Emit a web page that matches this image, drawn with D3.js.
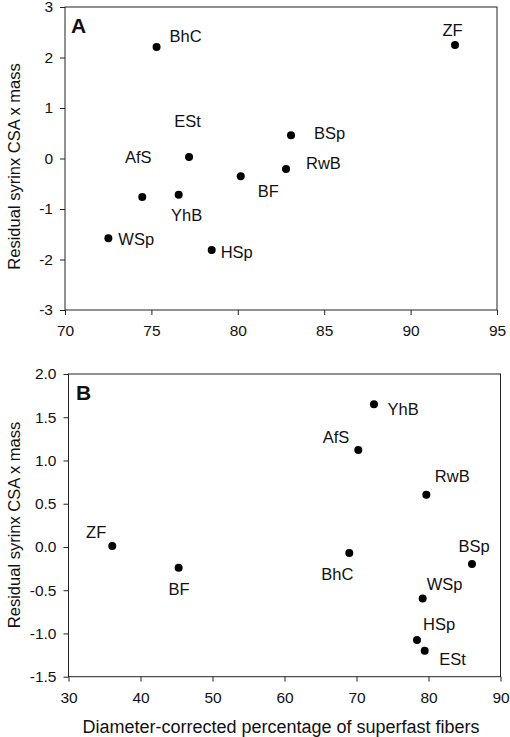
<!DOCTYPE html>
<html><head><meta charset="utf-8">
<script src="https://cdn.jsdelivr.net/npm/d3@7"></script>
<style>body{margin:0;background:#fff}svg{display:block}</style>
</head><body>
<svg id="c" width="510" height="737"></svg>
<script>
// Panel A data
const speciesA = ["BhC","ZF","ESt","AfS","YhB","WSp","HSp","BF","BSp","RwB"];
const superfastA = [75.3, 92.57, 77.18, 74.47, 76.58, 72.51, 78.49, 80.17, 83.08, 82.79];
const residualA = [2.21, 2.25, 0.03, -0.76, -0.72, -1.58, -1.81, -0.35, 0.46, -0.21];
const xTicksA = [70, 75, 80, 85, 90, 95];
const yTicksA = [-3, -2, -1, 0, 1, 2, 3];

// Panel B data
const speciesB = ["ZF","BF","YhB","AfS","RwB","BhC","BSp","WSp","HSp","ESt"];
const superfastB = [36.08, 45.3, 72.43, 70.25, 79.7, 69.0, 86.04, 79.19, 78.4, 79.47];
const residualB = [0.01, -0.24, 1.65, 1.12, 0.605, -0.07, -0.197, -0.597, -1.075, -1.2];
const xTicksB = [30, 40, 50, 60, 70, 80, 90];
const yTicksB = [-1.5, -1.0, -0.5, 0.0, 0.5, 1.0, 1.5, 2.0];

const yTitle = "Residual syrinx CSA x mass";
const xTitleB = "Diameter-corrected percentage of superfast fibers";

// label placement (pixel offsets from point): [dx, dy(baseline), anchor]
const labelPosA = {
  BhC:[13,-5,"start"], ZF:[-2.5,-9,"middle"], ESt:[-1.5,-30,"middle"], AfS:[-4,-34,"middle"],
  YhB:[8,26,"middle"], WSp:[10,7,"start"], HSp:[9,8,"start"], BF:[17,21,"start"],
  BSp:[23,4,"start"], RwB:[20,0,"start"]
};
const labelPosB = {
  ZF:[-6,-8,"end"], BF:[0.5,27,"middle"], YhB:[13.5,11,"start"], AfS:[-9,-7,"end"],
  RwB:[8.5,-13,"start"], BhC:[-12,27,"middle"], BSp:[2,-12.5,"middle"], WSp:[4,-9,"start"],
  HSp:[6,-9.5,"start"], ESt:[14.5,14,"start"]
};

const FONT = "'Liberation Sans', Arial, sans-serif";
const svg = d3.select("#c");

function panel(cfg){
  const g = svg.append("g");
  const x = d3.scaleLinear().domain(cfg.xDomain).range([cfg.left, cfg.right]);
  const y = d3.scaleLinear().domain(cfg.yDomain).range([cfg.bottom, cfg.top]);
  g.append("rect").attr("x", cfg.left).attr("y", cfg.top)
    .attr("width", cfg.right-cfg.left).attr("height", cfg.bottom-cfg.top)
    .attr("fill","none").attr("stroke","#222").attr("stroke-width",1);
  const xa = g.append("g").attr("transform",`translate(0,${cfg.bottom})`)
    .call(d3.axisBottom(x).tickValues(cfg.xTicks).tickSize(5).tickPadding(10).tickFormat(d=>String(d)));
  const ya = g.append("g").attr("transform",`translate(${cfg.left},0)`)
    .call(d3.axisLeft(y).tickValues(cfg.yTicks).tickSize(5).tickPadding(7).tickFormat(cfg.yFmt));
  [xa,ya].forEach(a=>{
    a.select(".domain").remove();
    a.selectAll("line").attr("stroke","#222");
    a.selectAll("text").attr("font-family",FONT).attr("font-size",15.5).attr("fill","#111");
  });
  g.append("text").attr("transform",`translate(${cfg.yTitleX},${cfg.yTitleY}) rotate(-90)`)
    .attr("text-anchor","middle").attr("font-family",FONT).attr("font-size",16.5).attr("fill","#111")
    .text(yTitle);
  g.append("text").attr("x",cfg.letterX).attr("y",cfg.letterY)
    .attr("font-family",FONT).attr("font-weight","bold").attr("font-size",21).attr("fill","#111")
    .text(cfg.letter);
  const data = cfg.species.map((s,i)=>({s, x:cfg.xs[i], y:cfg.ys[i]}));
  g.selectAll("circle.pt").data(data).join("circle").attr("class","pt")
    .attr("cx",d=>x(d.x)).attr("cy",d=>y(d.y)).attr("r",4).attr("fill","#000");
  g.selectAll("text.lbl").data(data).join("text").attr("class","lbl")
    .attr("x",d=>x(d.x)+cfg.lp[d.s][0]).attr("y",d=>y(d.y)+cfg.lp[d.s][1])
    .attr("text-anchor",d=>cfg.lp[d.s][2])
    .attr("font-family",FONT).attr("font-size",16.5).attr("fill","#111").text(d=>d.s);
  return {x,y,g};
}

panel({xDomain:[70,95], yDomain:[-3,3], left:65, right:497, top:7, bottom:310,
  xTicks:xTicksA, yTicks:yTicksA, yFmt:d=>String(d),
  species:speciesA, xs:superfastA, ys:residualA, lp:labelPosA,
  yTitleX:20, yTitleY:166.5, letter:"A", letterX:71, letterY:33});

const pB = panel({xDomain:[30,90], yDomain:[-1.5,2.0], left:68.5, right:500.5, top:374, bottom:676.7,
  xTicks:xTicksB, yTicks:yTicksB, yFmt:d=>d.toFixed(1),
  species:speciesB, xs:superfastB, ys:residualB, lp:labelPosB,
  yTitleX:20, yTitleY:525, letter:"B", letterX:76, letterY:400});

pB.g.append("text").attr("x",281).attr("y",733).attr("text-anchor","middle")
  .attr("font-family",FONT).attr("font-size",18).attr("fill","#111").text(xTitleB);
</script>
</body></html>
